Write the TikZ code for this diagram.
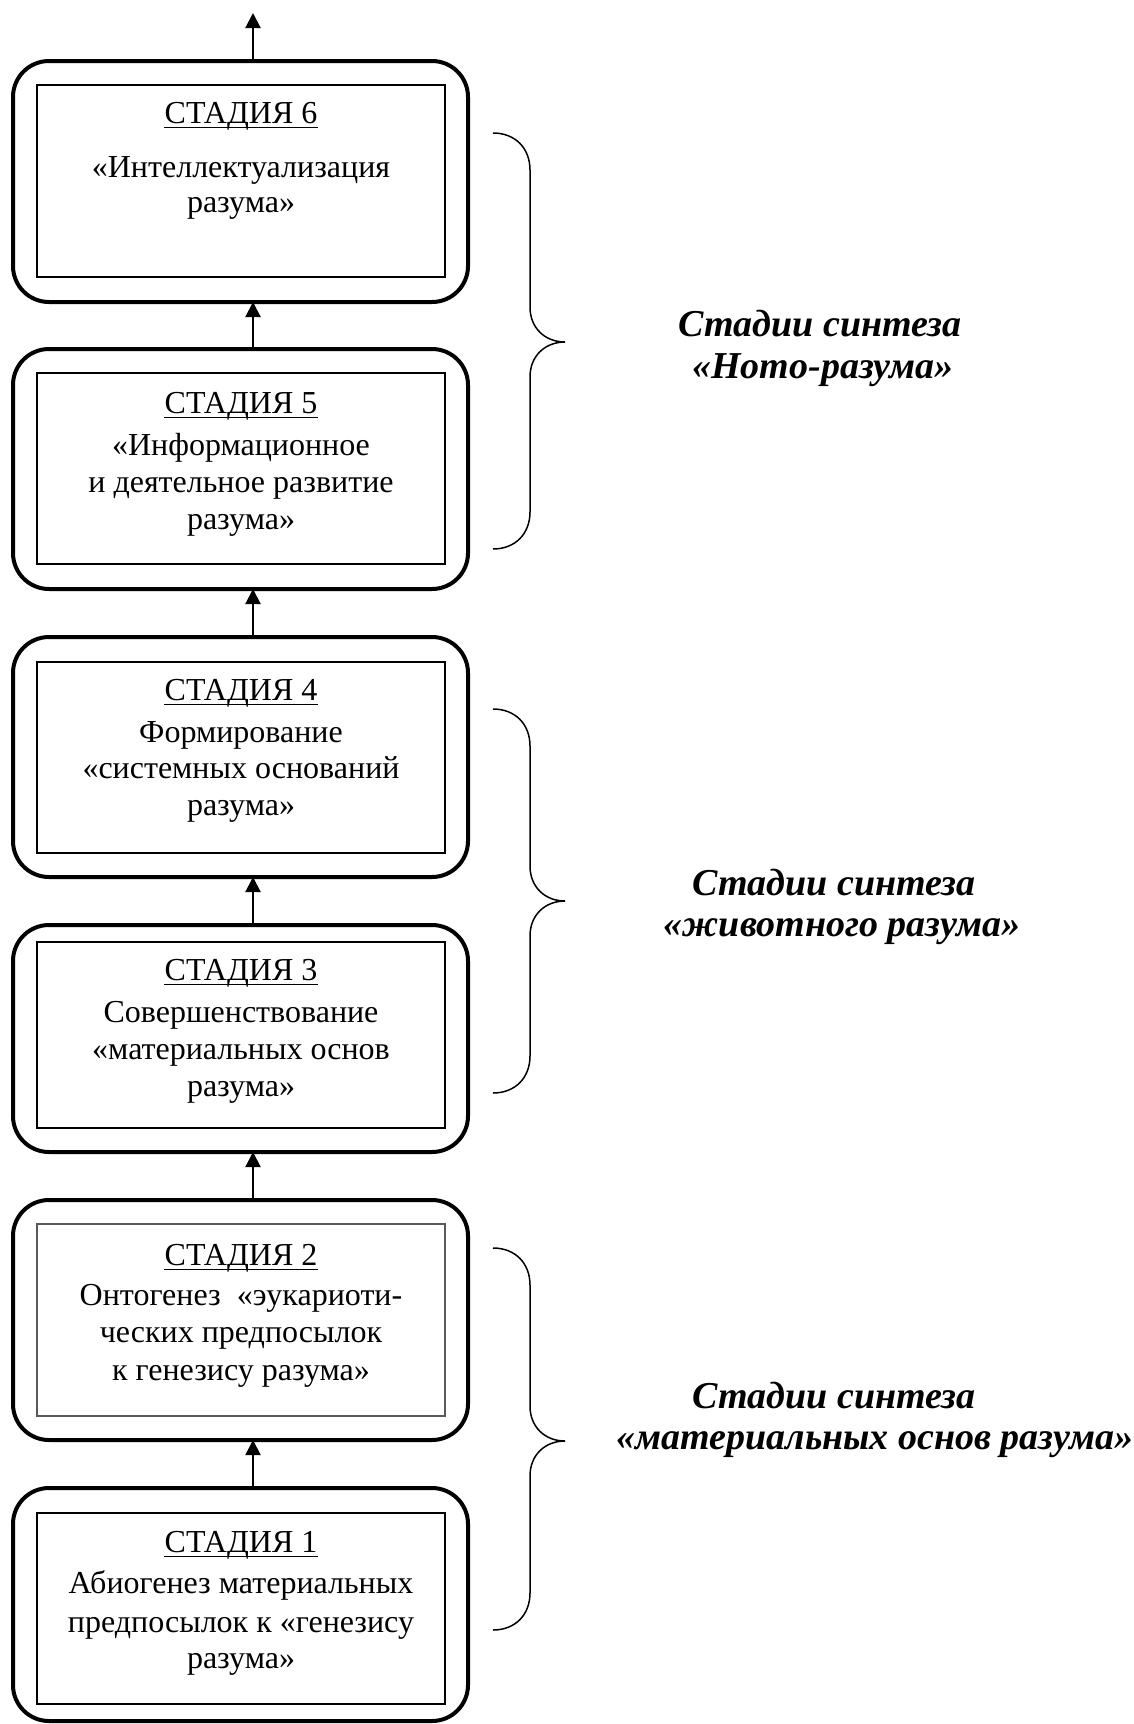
\documentclass[tikz,border=0pt]{standalone}
\usepackage{fontspec}
\setmainfont{Liberation Serif}
\usetikzlibrary{arrows.meta}
\tikzset{
  outerbox/.style={draw, line width=2pt, rounded corners=18pt, minimum width=227.5pt, inner sep=0pt, outer sep=0pt},
  innerbox/.style={draw, line width=1pt, minimum width=204pt, inner sep=0pt, outer sep=0pt},
  thinbox/.style={draw=black!65, line width=0.6pt, minimum width=204pt, inner sep=0pt, outer sep=0pt},
  txt/.style={font=\fontsize{16}{18}\selectfont, anchor=base, inner sep=0pt},
  lbl/.style={font=\fontsize{19}{21}\selectfont\bfseries\itshape, anchor=base, inner sep=0pt},
  flow/.style={line width=1pt, -{Triangle[width=7.5pt,length=7.5pt]}},
  bracepath/.style={line width=0.75pt},
  uline/.style={line width=0.65pt}
}
\begin{document}
\begin{tikzpicture}[x=0.5pt,y=-0.5pt]
\useasboundingbox (0,0) rectangle (1134,1724);

% outer boxes
\node[outerbox, minimum height=120.5pt] (o6) at (240.5,181.5) {};
\node[outerbox, minimum height=120pt]   (o5) at (240.5,469) {};
\node[outerbox, minimum height=120pt]   (o4) at (240.5,757) {};
\node[outerbox, minimum height=113.5pt] (o3) at (240.5,1038.5) {};
\node[outerbox, minimum height=120pt]   (o2) at (240.5,1320) {};
\node[outerbox, minimum height=116.5pt] (o1) at (240.5,1604.5) {};

% inner boxes
\node[innerbox, minimum height=96pt]   (i6) at (241,181) {};
\node[innerbox, minimum height=95.5pt] (i5) at (241,468.5) {};
\node[innerbox, minimum height=95.5pt] (i4) at (241,757.5) {};
\node[innerbox, minimum height=93pt]   (i3) at (241,1035) {};
\node[thinbox,  minimum height=96pt]   (i2) at (241,1320) {};
\node[innerbox, minimum height=95.5pt] (i1) at (241,1608.5) {};

% arrows
\coordinate (topend) at (253,13);
\draw[flow] ([xshift=6.25pt]o6.north) -- (topend);
\draw[flow] ([xshift=6.25pt]o5.north) -- ([xshift=6.25pt]o6.south);
\draw[flow] ([xshift=6.25pt]o4.north) -- ([xshift=6.25pt]o5.south);
\draw[flow] ([xshift=6.25pt]o3.north) -- ([xshift=6.25pt]o4.south);
\draw[flow] ([xshift=6.25pt]o2.north) -- ([xshift=6.25pt]o3.south);
\draw[flow] ([xshift=6.25pt]o1.north) -- ([xshift=6.25pt]o2.south);

% stage 6
\node[txt] (t6) at (241,123) {СТАДИЯ 6};
\draw[uline] ([yshift=-2.25pt]t6.base west) -- ([yshift=-2.25pt]t6.base east);
\node[txt] (t6a) at (241,177) {«Интеллектуализация};
\node[txt] (t6b) at (241,212) {разума»};

% stage 5
\node[txt] (t5) at (241,413) {СТАДИЯ 5};
\draw[uline] ([yshift=-2.25pt]t5.base west) -- ([yshift=-2.25pt]t5.base east);
\node[txt] (t5a) at (241,455) {«Информационное};
\node[txt] (t5b) at (241,492) {и деятельное развитие};
\node[txt] (t5c) at (241,529) {разума»};

% stage 4
\node[txt] (t4) at (241,700) {СТАДИЯ 4};
\draw[uline] ([yshift=-2.25pt]t4.base west) -- ([yshift=-2.25pt]t4.base east);
\node[txt] (t4a) at (241,742) {Формирование};
\node[txt] (t4b) at (241,778) {«системных оснований};
\node[txt] (t4c) at (241,815) {разума»};

% stage 3
\node[txt] (t3) at (241,980) {СТАДИЯ 3};
\draw[uline] ([yshift=-2.25pt]t3.base west) -- ([yshift=-2.25pt]t3.base east);
\node[txt] (t3a) at (241,1022) {Совершенствование};
\node[txt] (t3b) at (241,1059) {«материальных основ};
\node[txt] (t3c) at (241,1096) {разума»};

% stage 2
\node[txt] (t2) at (241,1265) {СТАДИЯ 2};
\draw[uline] ([yshift=-2.25pt]t2.base west) -- ([yshift=-2.25pt]t2.base east);
\node[txt] (t2a) at (241,1305) {Онтогенез\ \ «эукариоти-};
\node[txt] (t2b) at (241,1342) {ческих предпосылок};
\node[txt] (t2c) at (241,1380) {к генезису разума»};

% stage 1
\node[txt] (t1) at (241,1552) {СТАДИЯ 1};
\draw[uline] ([yshift=-2.25pt]t1.base west) -- ([yshift=-2.25pt]t1.base east);
\node[txt] (t1a) at (241,1593) {Абиогенез материальных};
\node[txt] (t1b) at (241,1632) {предпосылок к «генезису};
\node[txt] (t1c) at (241,1668) {разума»};

% braces
\draw[bracepath] (493,133) .. controls (515,133) and (530,148) .. (530,170)
  -- (530,307) .. controls (530,328) and (545,342) .. (565,342)
  .. controls (545,342) and (530,356) .. (530,377)
  -- (530,512) .. controls (530,534) and (515,549) .. (493,549);
\draw[bracepath] (493,709) .. controls (515,709) and (530,724) .. (530,746)
  -- (530,866) .. controls (530,887) and (545,901) .. (565,901)
  .. controls (545,901) and (530,915) .. (530,936)
  -- (530,1056) .. controls (530,1078) and (515,1093) .. (493,1093);
\draw[bracepath] (493,1248) .. controls (515,1248) and (530,1263) .. (530,1285)
  -- (530,1406) .. controls (530,1427) and (545,1441) .. (565,1441)
  .. controls (545,1441) and (530,1455) .. (530,1476)
  -- (530,1593) .. controls (530,1615) and (515,1630) .. (493,1630);

% labels
\node[lbl] (l1a) at (820,336) {Стадии синтеза};
\node[lbl] (l1b) at (823,378) {«Homo-разума»};
\node[lbl] (l2a) at (834,895) {Стадии синтеза};
\node[lbl] (l2b) at (842,936) {«животного разума»};
\node[lbl] (l3a) at (834,1408) {Стадии синтеза};
\node[lbl] (l3b) at (875,1449) {«материальных основ разума»};
\end{tikzpicture}
\end{document}
